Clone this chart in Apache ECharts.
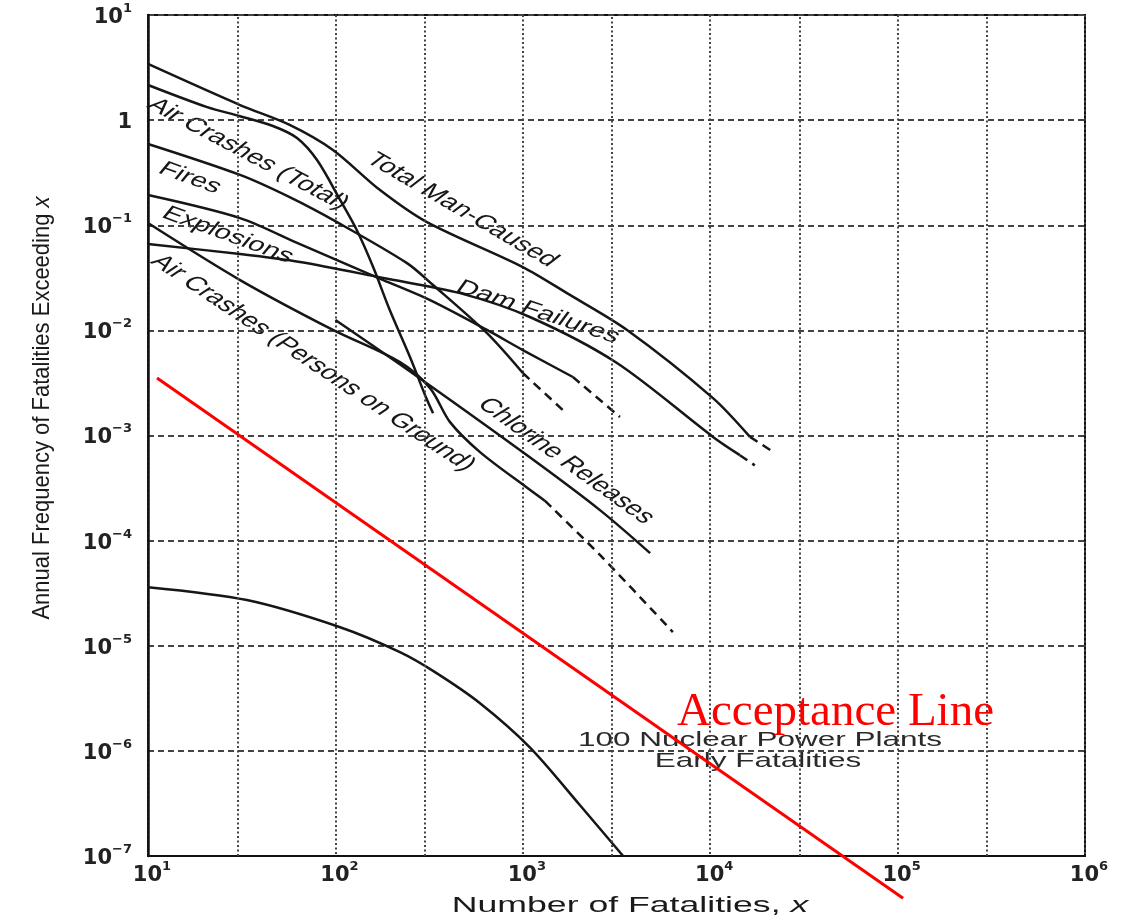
<!DOCTYPE html>
<html>
<head>
<meta charset="utf-8">
<script src="https://cdn.jsdelivr.net/npm/echarts@6/dist/echarts.min.js"></script>
<style>
html,body{margin:0;padding:0;background:#fff;}
#chart{width:1131px;height:923px;}
</style>
</head>
<body>
<div id="chart"></div>
<script>
// ---- axis ranges / grid helpers ----
const xRange = [10, 1e6];
const yRange = [1e-7, 10];
const xThreeGrid = [30, 300, 3000, 30000, 300000];

// ---- curves: [fatalities, annual frequency] ----
const totalManCaused = [[10,3.42],[31,1.39],[57,0.9],[97,0.52],[173,0.216],[308,0.107],[1000,0.04],[1720,0.0226],[3600,0.0101],[10350,0.00227],[16300,0.00097]];
const totalManCausedTail = [[16300,0.00097],[22200,0.00068]];

const airCrashesTotal = [[10,2.16],[20.7,1.33],[31,1.09],[46.4,0.879],[62.4,0.676],[79.8,0.417],[106,0.174],[130,0.09],[159,0.04],[195,0.0156],[250,0.00557],[301,0.00242],[332,0.00163]];

const fires = [[10,0.593],[31,0.301],[57,0.185],[102,0.107],[241,0.0436],[332,0.027],[644,0.0094],[1000,0.00393]];
const firesTail = [[1000,0.00393],[1680,0.00167]];

const explosions = [[10,0.194],[31,0.117],[64.7,0.066],[180,0.0301],[320,0.0194],[644,0.0101],[1000,0.0065],[1850,0.0036]];
const explosionsTail = [[1850,0.0036],[3300,0.0015]];

const damFailures = [[10,0.0662],[31,0.0532],[64.7,0.0447],[180,0.0315],[462,0.0226],[1090,0.0134],[3180,0.00489],[10350,0.00097],[14400,0.00065]];
const damFailuresTail = [[14400,0.00065],[17300,0.00052]];

const airCrashesGround = [[10,0.105],[31,0.0301],[97,0.0101],[221,0.00499],[320,0.00282],[409,0.00134],[591,0.000695],[1050,0.00032],[1310,0.00024]];
const airCrashesGroundTail = [[1310,0.00024],[2580,0.000073],[6320,0.0000135]];

const chlorineReleases = [[100,0.01253],[266,0.00376],[1090,0.00062],[2580,0.000195],[4780,0.000076]];

const nuclearPlants = [[10,3.61e-5],[33.7,2.72e-5],[106,1.5e-5],[221,8.69e-6],[340,5.61e-6],[591,2.84e-6],[1090,1.08e-6],[2020,3.04e-7],[3430,1e-7]];

const acceptanceLine = [[11.17,0.00352],[107000,3.97e-8]];

// ---- texts ----
const curveLabels = [
  {text:'Air Crashes (Total)', cx:248, cy:154, angle:28},
  {text:'Total Man-Caused', cx:462, cy:210, angle:30},
  {text:'Fires', cx:190, cy:178, angle:20},
  {text:'Explosions', cx:228, cy:235, angle:20},
  {text:'Air Crashes (Persons on Ground)', cx:313, cy:363, angle:33.6},
  {text:'Dam Failures', cx:538, cy:312, angle:18},
  {text:'Chlorine Releases', cx:566, cy:461, angle:35.5}
];
const nuclearLabel = ['100 Nuclear Power Plants', 'Early Fatalities'];
const acceptanceLabel = 'Acceptance Line';
const xTitle = 'Number of Fatalities, ';
const yTitle = 'Annual Frequency of Fatalities Exceeding ';

const STRETCH = 1.5;
const INK = '#161616';

function expLabel(v, isY) {
  const e = Math.round(Math.log10(v));
  if (isY && e === 0) return '{b|1}';
  return '{b|10}{s|' + (e < 0 ? '\u2212' + (-e) : e) + '}';
}
const labelRich = {
  b: {fontFamily:'DejaVu Sans', fontWeight:'bold', fontSize:21, color:'#222', lineHeight:26, verticalAlign:'bottom'},
  s: {fontFamily:'DejaVu Sans', fontWeight:'bold', fontSize:13, color:'#222', lineHeight:15, verticalAlign:'top'}
};

function curve(name, data, dashed) {
  return {
    type:'line', name:name, data:data, symbol:'none', showSymbol:false,
    smooth:0.3, silent:true, z:3,
    lineStyle:{color:INK, width:2.5, type: dashed ? [9,6] : 'solid'}
  };
}

const rotatedTexts = curveLabels.map(l => {
  const rad = Math.atan(STRETCH * Math.tan(l.angle * Math.PI / 180));
  return {
    type:'text', x:l.cx / STRETCH, y:l.cy, rotation:-rad, silent:true,
    style:{text:l.text, fontFamily:'Liberation Sans', fontSize:20, fill:INK,
           align:'center', verticalAlign:'middle'}
  };
});

const chart = echarts.init(document.getElementById('chart'), null, {renderer:'canvas'});
chart.setOption({
  animation:false,
  backgroundColor:'#fff',
  grid:{left:148, top:15, right:46, bottom:67, show:true, borderColor:'#111', borderWidth:2, backgroundColor:'#fff'},
  xAxis:{
    type:'log', logBase:10, min:xRange[0], max:xRange[1], splitNumber:5,
    axisLine:{show:true, lineStyle:{color:'#111', width:2}},
    axisTick:{show:false},
    splitLine:{show:true, lineStyle:{color:'#444', width:2, type:[2,2.5]}},
    axisLabel:{margin:4, padding:[0,0,0,8], formatter:v => expLabel(v,false), rich:labelRich}
  },
  yAxis:{
    type:'log', logBase:10, min:yRange[0], max:yRange[1], splitNumber:8,
    axisLine:{show:true, lineStyle:{color:'#111', width:2.5}},
    axisTick:{show:false},
    splitLine:{show:true, lineStyle:{color:'#444', width:2, type:[6,4]}},
    axisLabel:{margin:16, formatter:v => expLabel(v,true), rich:labelRich}
  },
  series:[
    {type:'line', name:'grid3', data:[], silent:true, z:1,
     markLine:{silent:true, symbol:['none','none'], label:{show:false}, animation:false,
       lineStyle:{color:'#444', width:2, type:[2,2.5]},
       emphasis:{disabled:true},
       data:xThreeGrid.map(v => ({xAxis:v}))}},
    curve('Total Man-Caused', totalManCaused, false),
    curve('Total Man-Caused tail', totalManCausedTail, true),
    curve('Air Crashes (Total)', airCrashesTotal, false),
    curve('Fires', fires, false),
    curve('Fires tail', firesTail, true),
    curve('Explosions', explosions, false),
    curve('Explosions tail', explosionsTail, true),
    curve('Dam Failures', damFailures, false),
    curve('Dam Failures tail', damFailuresTail, true),
    curve('Air Crashes (Persons on Ground)', airCrashesGround, false),
    curve('Air Crashes (Persons on Ground) tail', airCrashesGroundTail, true),
    curve('Chlorine Releases', chlorineReleases, false),
    curve('100 Nuclear Power Plants', nuclearPlants, false),
    {type:'line', name:'Acceptance Line', data:acceptanceLine, symbol:'none', showSymbol:false,
     silent:true, clip:false, z:6, lineStyle:{color:'#ff0000', width:3}}
  ],
  graphic:[
    {type:'group', x:0, y:0, scaleX:STRETCH, children:rotatedTexts},
    {type:'text', x:760, y:740, scaleX:STRETCH, silent:true,
     style:{text:nuclearLabel[0], fontFamily:'Liberation Sans', fontSize:21, fill:'#2a2a2a', align:'center', verticalAlign:'middle'}},
    {type:'text', x:758, y:761, scaleX:STRETCH, silent:true,
     style:{text:nuclearLabel[1], fontFamily:'Liberation Sans', fontSize:21, fill:'#2a2a2a', align:'center', verticalAlign:'middle'}},
    {type:'text', x:677, y:713, silent:true, z:10,
     style:{text:acceptanceLabel, fontFamily:'Liberation Serif', fontSize:47, fill:'#ff0000', align:'left', verticalAlign:'middle'}},
    {type:'text', x:630, y:906, scaleX:1.62, silent:true,
     style:{text:'{a|' + xTitle + '}{i|x}', align:'center', verticalAlign:'middle',
            rich:{a:{fontFamily:'Liberation Sans', fontSize:22, fill:'#1a1a1a', fontWeight:'normal'},
                  i:{fontFamily:'Liberation Sans', fontSize:22, fill:'#1a1a1a', fontStyle:'italic'}}}},
    {type:'text', x:42, y:408, rotation:Math.PI/2, scaleY:1.12, silent:true,
     style:{text:'{a|' + yTitle + '}{i|x}', align:'center', verticalAlign:'middle',
            rich:{a:{fontFamily:'Liberation Sans', fontSize:22, fill:'#1a1a1a'},
                  i:{fontFamily:'Liberation Sans', fontSize:22, fill:'#1a1a1a', fontStyle:'italic'}}}}
  ]
});
</script>
</body>
</html>
